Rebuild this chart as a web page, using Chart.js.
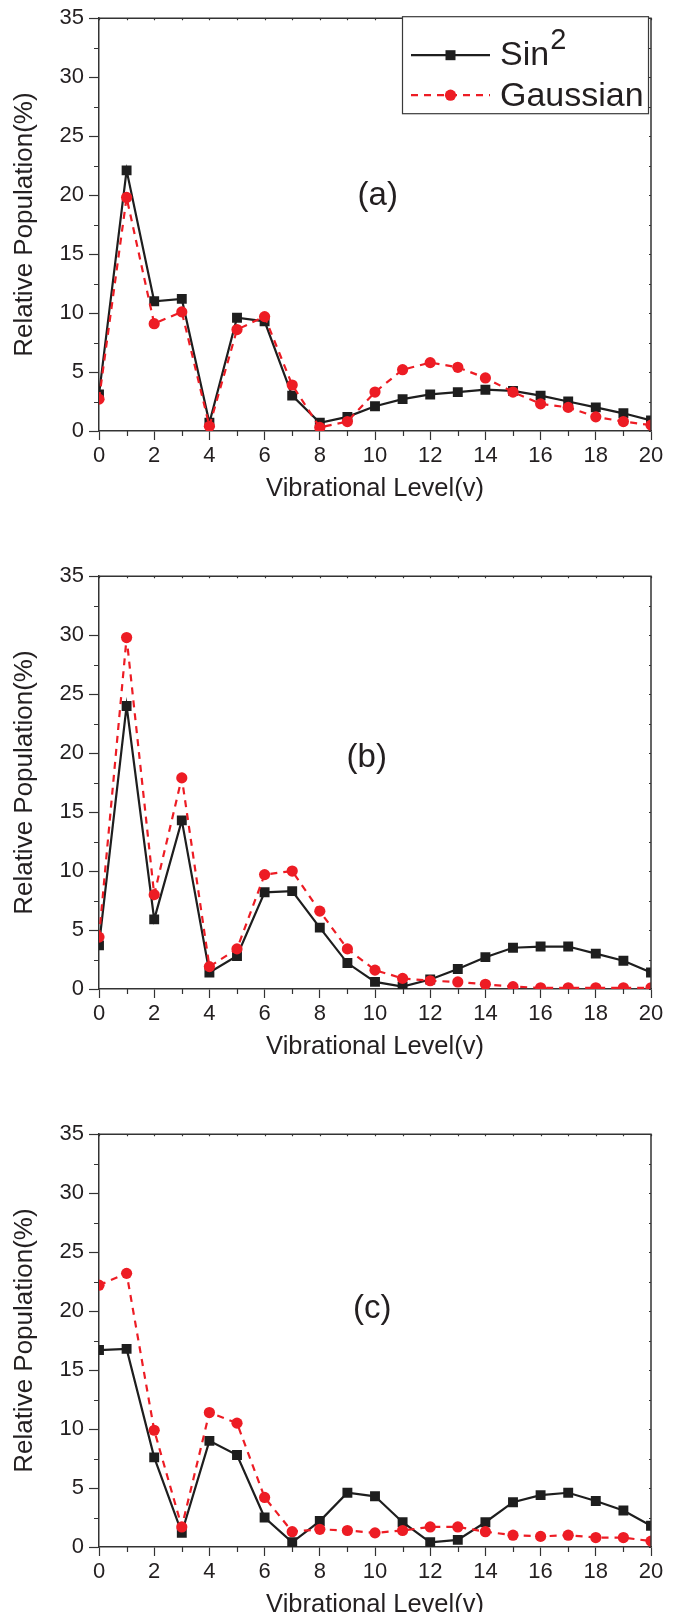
<!DOCTYPE html>
<html>
<head>
<meta charset="utf-8">
<script src="https://cdn.jsdelivr.net/npm/chart.js@4.4.1/dist/chart.umd.min.js"></script>
<style>
  html, body { margin: 0; padding: 0; background: #fff; overflow: hidden; }
  body { width: 679px; height: 1612px; position: relative; }
  .panel { position: absolute; left: 0; width: 679px; height: 520px; }
</style>
</head>
<body>
<div class="panel" style="top:0px"><canvas id="chartA" width="679" height="520"></canvas></div>
<div class="panel" style="top:558px"><canvas id="chartB" width="679" height="520"></canvas></div>
<div class="panel" style="top:1116px"><canvas id="chartC" width="679" height="520"></canvas></div>
<script>
// vibrational levels v = 0..20
const levels = [0, 1, 2, 3, 4, 5, 6, 7, 8, 9, 10, 11, 12, 13, 14, 15, 16, 17, 18, 19, 20];

// panel (a)
const sin2A  = [3.1, 22.1, 11.0, 11.2, 0.7, 9.6, 9.3, 3.0, 0.7, 1.2, 2.1, 2.7, 3.1, 3.3, 3.5, 3.4, 3.0, 2.5, 2.0, 1.5, 0.9];
const gaussA = [2.7, 19.8, 9.1, 10.1, 0.4, 8.6, 9.7, 3.9, 0.3, 0.8, 3.3, 5.2, 5.8, 5.4, 4.5, 3.3, 2.3, 2.0, 1.2, 0.8, 0.5];

// panel (b)
const sin2B  = [3.7, 24.0, 5.9, 14.3, 1.4, 2.8, 8.2, 8.3, 5.2, 2.2, 0.6, 0.2, 0.8, 1.7, 2.7, 3.5, 3.6, 3.6, 3.0, 2.4, 1.4];
const gaussB = [4.4, 29.8, 8.0, 17.9, 1.9, 3.4, 9.7, 10.0, 6.6, 3.4, 1.6, 0.9, 0.7, 0.6, 0.4, 0.2, 0.1, 0.1, 0.1, 0.1, 0.1];

// panel (c)
const sin2C  = [16.7, 16.8, 7.6, 1.2, 9.0, 7.8, 2.5, 0.4, 2.2, 4.6, 4.3, 2.1, 0.4, 0.6, 2.1, 3.8, 4.4, 4.6, 3.9, 3.1, 1.8];
const gaussC = [22.2, 23.2, 9.9, 1.7, 11.4, 10.5, 4.2, 1.3, 1.5, 1.4, 1.2, 1.4, 1.7, 1.7, 1.3, 1.0, 0.9, 1.0, 0.8, 0.8, 0.5];

const seriesNames = ["Sin", "Gaussian"];

const BLACK = "#1e1e1e";
const RED = "#ed1c24";
const TEXT = "#231f20";
const FONT = "'Liberation Sans', Arial, Helvetica, sans-serif";

Chart.defaults.font.family = FONT;
Chart.defaults.color = TEXT;

// === Frame, minor ticks, panel tag and legend ===
const framePlugin = {
  id: "frame",
  afterDraw(chart, args, opts) {
    const ctx = chart.ctx;
    const ca = chart.chartArea;
    const xs = chart.scales.x;
    const ys = chart.scales.y;
    ctx.save();
    ctx.strokeStyle = "#333";
    ctx.lineWidth = 1.5;
    ctx.beginPath();
    ctx.moveTo(ca.left, ca.top);
    ctx.lineTo(ca.right, ca.top);
    ctx.lineTo(ca.right, ca.bottom);
    ctx.stroke();

    ctx.lineWidth = 1.2;
    ctx.beginPath();
    levels.forEach(v => {
      const px = Math.round(xs.getPixelForValue(v)) + 0.5;
      if (v % 2 === 1) {
        ctx.moveTo(px, ca.bottom);
        ctx.lineTo(px, ca.bottom + 5);
      }
      ctx.moveTo(px, ca.top);
      ctx.lineTo(px, ca.top + 2);
    });
    for (let y = 0; y <= 35; y += 2.5) {
      const py = Math.round(ys.getPixelForValue(y)) + 0.5;
      if (y % 5 !== 0) {
        ctx.moveTo(ca.left, py);
        ctx.lineTo(ca.left - 5, py);
      }
      ctx.moveTo(ca.right, py);
      ctx.lineTo(ca.right - 2, py);
    }
    ctx.stroke();

    // panel tag, e.g. "(a)"
    ctx.fillStyle = TEXT;
    ctx.font = "33px " + FONT;
    ctx.textAlign = "center";
    ctx.textBaseline = "middle";
    ctx.fillText(opts.tag, xs.getPixelForValue(opts.tagAt[0]), ys.getPixelForValue(opts.tagAt[1]));

    if (opts.legend) {
      const bw = 246, bh = 97;
      const bl = ca.right - 249;
      const bt = ca.top - 2;
      ctx.fillStyle = "#fff";
      ctx.fillRect(bl, bt, bw, bh);
      ctx.strokeStyle = "#3a3a3a";
      ctx.lineWidth = 1.2;
      ctx.strokeRect(bl + 0.5, bt + 0.5, bw, bh);

      const rows = [
        { y: bt + 39, color: BLACK, dash: [], style: "rect" },
        { y: bt + 79, color: RED, dash: [7, 6], style: "circle" }
      ];
      rows.forEach(r => {
        ctx.strokeStyle = r.color;
        ctx.lineWidth = 2.2;
        ctx.setLineDash(r.dash);
        ctx.beginPath();
        ctx.moveTo(bl + 9, r.y);
        ctx.lineTo(bl + 88, r.y);
        ctx.stroke();
        ctx.setLineDash([]);
        ctx.fillStyle = r.color;
        if (r.style === "rect") {
          ctx.fillRect(bl + 43.5, r.y - 5, 10, 10);
        } else {
          ctx.beginPath();
          ctx.arc(bl + 48.5, r.y, 5.6, 0, Math.PI * 2);
          ctx.fill();
        }
      });

      ctx.fillStyle = TEXT;
      ctx.textAlign = "left";
      ctx.textBaseline = "alphabetic";
      ctx.font = "34px " + FONT;
      ctx.fillText(seriesNames[0], bl + 98, bt + 49);
      const w = ctx.measureText(seriesNames[0]).width;
      ctx.font = "29px " + FONT;
      ctx.fillText("2", bl + 98 + w + 1, bt + 33);
      ctx.font = "34px " + FONT;
      ctx.fillText(seriesNames[1], bl + 98, bt + 90);
    }
    ctx.restore();
  }
};

function makePanel(id, sin2, gauss, tag, tagAt, legend) {
  const toPoints = arr => levels.map((v, i) => ({ x: v, y: arr[i] }));
  return new Chart(document.getElementById(id), {
    type: "line",
    data: {
      datasets: [
        {
          label: seriesNames[0],
          data: toPoints(sin2),
          borderColor: BLACK,
          backgroundColor: BLACK,
          borderWidth: 2.2,
          pointStyle: "rect",
          pointRadius: 7,
          pointBorderWidth: 0,
          pointBackgroundColor: BLACK,
          tension: 0,
          clip: 0,
          order: 2
        },
        {
          label: seriesNames[1],
          data: toPoints(gauss),
          borderColor: RED,
          backgroundColor: RED,
          borderWidth: 2.2,
          borderDash: [7, 6],
          pointStyle: "circle",
          pointRadius: 5.6,
          pointBorderWidth: 0,
          pointBackgroundColor: RED,
          tension: 0,
          clip: 0,
          order: 1
        }
      ]
    },
    options: {
      responsive: false,
      animation: false,
      devicePixelRatio: 1,
      layout: { padding: { top: 16, right: 28, bottom: 0, left: 0 } },
      plugins: {
        legend: { display: false },
        tooltip: { enabled: false },
        frame: { tag: tag, tagAt: tagAt, legend: legend }
      },
      scales: {
        x: {
          type: "linear",
          min: 0,
          max: 20,
          afterFit: s => { s.height = 89; },
          ticks: { stepSize: 2, font: { size: 22 }, color: TEXT, padding: 3, maxRotation: 0 },
          grid: { drawOnChartArea: false, tickLength: 9, tickColor: "#333", tickWidth: 1.2 },
          border: { color: "#333", width: 1.5 },
          title: {
            display: true,
            text: "Vibrational Level(v)",
            font: { size: 25.5 },
            color: TEXT,
            padding: { top: 0, bottom: 16 }
          }
        },
        y: {
          min: 0,
          max: 35,
          afterFit: s => { s.width = 99; },
          ticks: { stepSize: 5, font: { size: 22 }, color: TEXT, padding: 5 },
          grid: { drawOnChartArea: false, tickLength: 10, tickColor: "#333", tickWidth: 1.2 },
          border: { color: "#333", width: 1.5 },
          title: {
            display: true,
            text: "Relative Population(%)",
            font: { size: 26 },
            color: TEXT,
            padding: { top: 9, bottom: 0 }
          }
        }
      }
    },
    plugins: [framePlugin]
  });
}

makePanel("chartA", sin2A, gaussA, "(a)", [10.1, 19.9], true);
makePanel("chartB", sin2B, gaussB, "(b)", [9.7, 19.6], false);
makePanel("chartC", sin2C, gaussC, "(c)", [9.9, 20.2], false);
</script>
</body>
</html>
